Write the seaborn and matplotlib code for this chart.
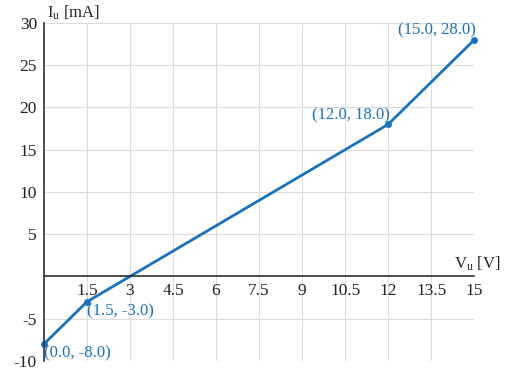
import pandas as pd
import matplotlib.pyplot as plt
import seaborn as sns

# Dati
tensione = [0.0, 1.5, 12.0, 15.0]
corrente = [-8.0, -3.0, 18.0, 28.0]
x_ticks = [1.5, 3, 4.5, 6, 7.5, 9, 10.5, 12, 13.5, 15]
y_ticks = [-10, -5, 5, 10, 15, 20, 25, 30]

sns.set_style('white')
plt.rcParams['font.family'] = ['Liberation Serif', 'DejaVu Serif']
plt.rcParams['mathtext.fontset'] = 'custom'
plt.rcParams['mathtext.rm'] = 'Liberation Serif'

blu = '#1a72bb'
df = pd.DataFrame({'V': tensione, 'I': corrente})

fig = plt.figure(figsize=(5.05, 3.74), dpi=100)
ax = fig.add_axes([0.087, 0.035, 0.852, 0.9035])

sns.lineplot(data=df, x='V', y='I', ax=ax, color=blu, linewidth=2,
             marker='o', markersize=5, markeredgewidth=0, clip_on=False)

ax.set_xlim(0, 15)
ax.set_ylim(-10, 30)
ax.set_xticks([0] + x_ticks)
ax.set_xticklabels([''] + [f'{t:g}' for t in x_ticks])
ax.set_yticks(y_ticks + [0])
ax.set_yticklabels([str(t) for t in y_ticks] + [''])

ax.grid(True, color='#dcdcdc', linewidth=0.8)
ax.set_axisbelow(True)

for s in ['top', 'right']:
    ax.spines[s].set_visible(False)
ax.spines['left'].set_position(('data', 0))
ax.spines['bottom'].set_position(('data', 0))
for s in ['left', 'bottom']:
    ax.spines[s].set_color('#333333')
    ax.spines[s].set_linewidth(1.2)

ax.tick_params(axis='both', direction='in', length=4, width=1.2,
               color='#333333', labelsize=12.5, labelcolor='#222222', pad=5)
ax.set_xlabel('')
ax.set_ylabel('')

ax.text(0.1, 30.1, r'$\mathregular{I_u}$ [mA]', ha='left', va='bottom',
        fontsize=12, color='#222222')
ax.text(15.9, 0.4, r'$\mathregular{V_u}$ [V]', ha='right', va='bottom',
        fontsize=12, color='#222222', clip_on=False)

# Etichette dei punti
for xv, yv in zip(tensione, corrente):
    testo = f'({xv:.1f}, {yv:.1f})'
    if xv > 5:
        ax.annotate(testo, (xv, yv), xytext=(1, 1), textcoords='offset points',
                    ha='right', va='bottom', fontsize=12, color=blu)
    else:
        ax.annotate(testo, (xv, yv), xytext=(0, -1), textcoords='offset points',
                    ha='left', va='top', fontsize=12, color=blu)

plt.savefig('out.png', dpi=100)
